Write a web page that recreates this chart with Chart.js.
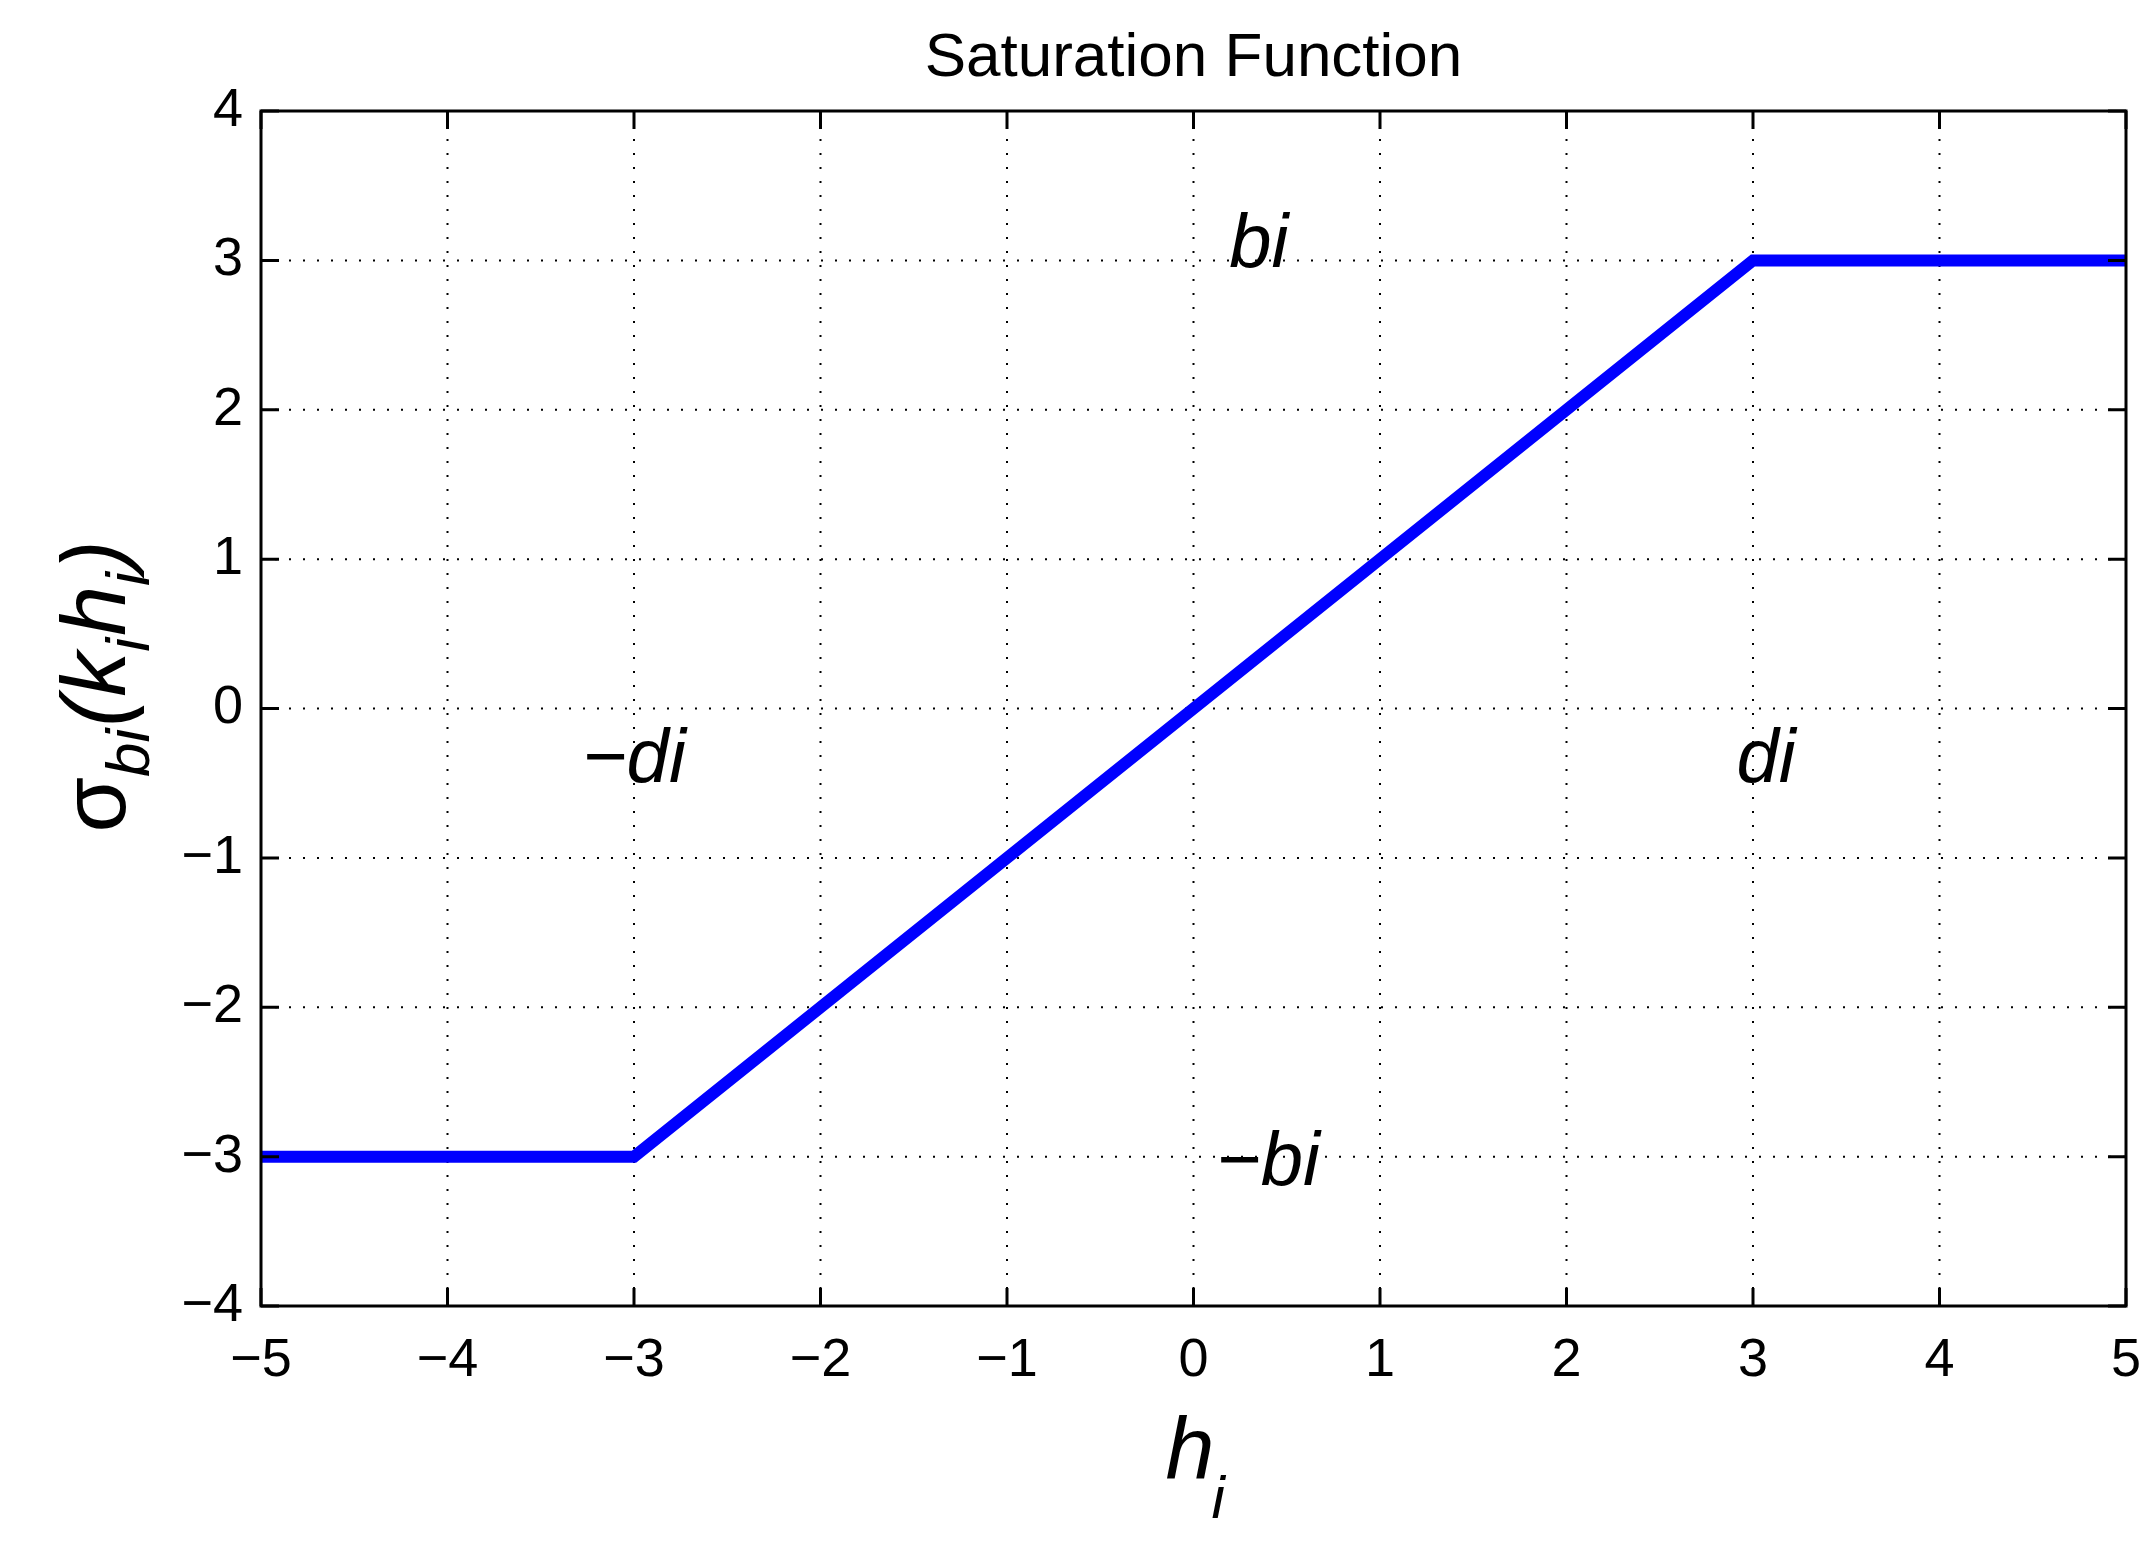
<!DOCTYPE html>
<html>
<head>
<meta charset="utf-8">
<script src="https://cdn.jsdelivr.net/npm/chart.js@4"></script>
<style>
  html, body { margin: 0; padding: 0; background: #fff; }
  #wrap { width: 2156px; height: 1548px; }
</style>
</head>
<body>
<div id="wrap"><canvas id="chart"></canvas></div>
<script>
// data
const hValues = [-5, -3, 3, 5];
const sigmaValues = [-3, -3, 3, 3];
const xTicks = [-5, -4, -3, -2, -1, 0, 1, 2, 3, 4, 5];
const yTicks = [-4, -3, -2, -1, 0, 1, 2, 3, 4];
const regionLabels = ["bi", "\u2212di", "di", "\u2212bi"];
const regionX = [0.35, -3.0, 3.07, 0.4];
const regionY = [3.1, -0.35, -0.35, -3.05];

const FONT = "'Liberation Sans', Arial, sans-serif";

// axes, grid, ticks and texts drawn in matlab style
const matlabAxes = {
  id: "matlabAxes",
  beforeDatasetsDraw(chart) {
    const { ctx, chartArea: a, scales: { x, y } } = chart;
    ctx.save();
    ctx.strokeStyle = "#000";
    ctx.lineWidth = 2;
    ctx.setLineDash([2, 12]);
    xTicks.forEach((t) => {
      const px = x.getPixelForValue(t);
      ctx.beginPath(); ctx.moveTo(px, a.top); ctx.lineTo(px, a.bottom); ctx.stroke();
    });
    yTicks.forEach((t) => {
      const py = y.getPixelForValue(t);
      ctx.beginPath(); ctx.moveTo(a.left, py); ctx.lineTo(a.right, py); ctx.stroke();
    });
    ctx.restore();
  },
  afterDraw(chart) {
    const { ctx, chartArea: a, scales: { x, y } } = chart;
    ctx.save();
    ctx.strokeStyle = "#000";
    ctx.lineWidth = 3;
    ctx.strokeRect(a.left, a.top, a.right - a.left, a.bottom - a.top);
    const tl = 18;
    ctx.beginPath();
    xTicks.forEach((t) => {
      const px = x.getPixelForValue(t);
      ctx.moveTo(px, a.bottom); ctx.lineTo(px, a.bottom - tl);
      ctx.moveTo(px, a.top); ctx.lineTo(px, a.top + tl);
    });
    yTicks.forEach((t) => {
      const py = y.getPixelForValue(t);
      ctx.moveTo(a.left, py); ctx.lineTo(a.left + tl, py);
      ctx.moveTo(a.right, py); ctx.lineTo(a.right - tl, py);
    });
    ctx.stroke();

    const fmt = (v) => (v < 0 ? "\u2212" + Math.abs(v) : String(v));
    ctx.fillStyle = "#000";
    ctx.font = "54px " + FONT;
    ctx.textAlign = "center"; ctx.textBaseline = "top";
    xTicks.forEach((t) => ctx.fillText(fmt(t), x.getPixelForValue(t), a.bottom + 28));
    ctx.textAlign = "right"; ctx.textBaseline = "middle";
    yTicks.forEach((t) => ctx.fillText(fmt(t), a.left - 18, y.getPixelForValue(t)));

    // title
    ctx.font = "62px " + FONT;
    ctx.textAlign = "center"; ctx.textBaseline = "alphabetic";
    ctx.fillText("Saturation Function", (a.left + a.right) / 2, 76);

    // region labels
    ctx.font = "italic 76px " + FONT;
    ctx.textBaseline = "middle";
    regionLabels.forEach((s, i) => {
      ctx.fillText(s, x.getPixelForValue(regionX[i]), y.getPixelForValue(regionY[i]));
    });

    // x label h_i
    ctx.textAlign = "left"; ctx.textBaseline = "alphabetic";
    const cx = (a.left + a.right) / 2;
    ctx.font = "italic 88px " + FONT;
    ctx.fillText("h", cx - 28, 1478);
    ctx.font = "italic 60px " + FONT;
    ctx.fillText("i", cx + 18, 1518);

    // y label sigma_bi(k_i h_i)
    ctx.translate(95, 710);
    ctx.rotate(-Math.PI / 2);
    const parts = [
      ["\u03c3", 90, 0], ["bi", 62, 24], ["(k", 90, 0], ["i", 62, 24],
      ["h", 90, 0], ["i", 62, 24], [")", 90, 0]
    ];
    let w = 0;
    parts.forEach(([s, sz]) => { ctx.font = "italic " + sz + "px " + FONT; w += ctx.measureText(s).width; });
    let px = -w / 2 + 20;
    parts.forEach(([s, sz, dy]) => {
      ctx.font = (s === "\u03c3" ? "" : "italic ") + sz + "px " + FONT;
      ctx.fillText(s, px, 30 + dy);
      px += ctx.measureText(s).width + (dy ? 2 : 0);
    });
    ctx.restore();
  }
};

new Chart(document.getElementById("chart"), {
  type: "line",
  data: {
    datasets: [{
      data: hValues.map((h, i) => ({ x: h, y: sigmaValues[i] })),
      borderColor: "#0000ff",
      borderWidth: 12,
      pointRadius: 0,
      fill: false,
      tension: 0,
      borderJoinStyle: "miter"
    }]
  },
  options: {
    responsive: true,
    maintainAspectRatio: false,
    animation: false,
    layout: { padding: { left: 261, right: 30, top: 111, bottom: 242 } },
    scales: {
      x: { type: "linear", min: -5, max: 5, display: false },
      y: { type: "linear", min: -4, max: 4, display: false }
    },
    plugins: { legend: { display: false }, tooltip: { enabled: false } }
  },
  plugins: [matlabAxes]
});
</script>
</body>
</html>
